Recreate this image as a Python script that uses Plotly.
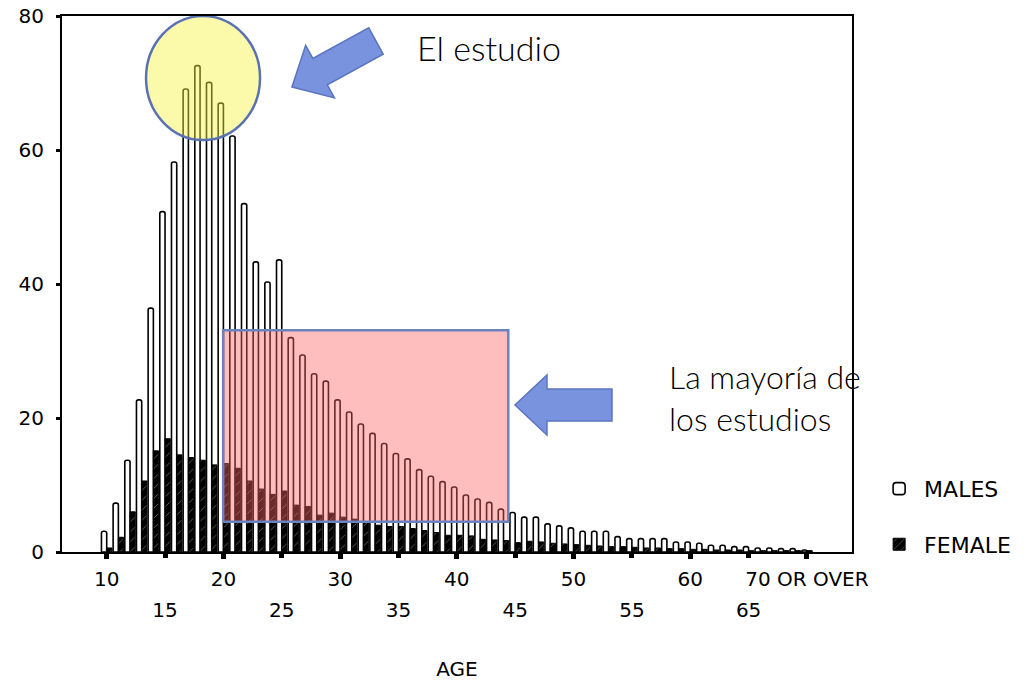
import plotly.graph_objects as go

# ---------------- data ----------------
ages = list(range(10, 71))
males = [3.1, 7.3, 13.7, 22.7, 36.4, 50.8, 58.2, 69.1, 72.6, 70.1,
         67.0, 62.1, 52.0, 43.3, 40.3, 43.6, 32.0, 29.4, 26.6, 25.5,
         22.7, 20.9, 19.1, 17.7, 16.2, 14.7, 13.9, 12.3, 11.3, 10.5,
         9.7, 8.5, 7.9, 7.4, 6.4, 5.9, 5.2, 5.2, 4.2, 3.9,
         3.6, 3.1, 3.1, 3.1, 2.3, 2.0, 2.0, 2.0, 2.0, 1.5,
         1.5, 1.3, 1.0, 1.0, 0.8, 0.8, 0.6, 0.6, 0.5, 0.5,
         0.3]
females = [0.6, 2.2, 6.0, 10.6, 15.1, 16.9, 14.5, 14.1, 13.7, 13.0,
           13.2, 12.5, 10.6, 9.4, 8.6, 9.1, 7.0, 6.8, 5.5, 5.8,
           5.2, 4.9, 4.5, 4.0, 3.8, 3.8, 3.5, 3.2, 2.9, 2.5,
           2.5, 2.4, 1.9, 1.8, 1.7, 1.4, 1.6, 1.5, 1.3, 1.2,
           1.1, 1.0, 0.9, 0.8, 0.8, 0.7, 0.6, 0.6, 0.5, 0.5,
           0.4, 0.4, 0.3, 0.3, 0.3, 0.2, 0.2, 0.2, 0.2, 0.2,
           0.2]
ticks_row1 = [10, 20, 30, 40, 50, 60, 70]
labels_row1 = ["10", "20", "30", "40", "50", "60", "70 OR OVER"]
ticks_row2 = [15, 25, 35, 45, 55, 65]
labels_row2 = ["15", "25", "35", "45", "55", "65"]
y_ticks = [0, 20, 40, 60, 80]

# ---------------- layout geometry (pixels) ----------------
W, H = 1024, 681
L, R, T, B = 62, 172, 16, 129
PW, PH = W - L - R, H - T - B
XR = [6.17, 73.86]
YR = [0, 80]


def px2paper(px, py):
    return (px - L) / PW, (H - B - py) / PH


def arrow_path(tip, tail, shaft_half, head_half, head_len):
    tx, ty = tip
    ax, ay = tail
    dx, dy = ax - tx, ay - ty
    ln = (dx * dx + dy * dy) ** 0.5
    ux, uy = dx / ln, dy / ln
    nx, ny = -uy, ux
    bx, by = tx + ux * head_len, ty + uy * head_len
    pts = [
        (tx, ty),
        (bx + nx * head_half, by + ny * head_half),
        (bx + nx * shaft_half, by + ny * shaft_half),
        (ax + nx * shaft_half, ay + ny * shaft_half),
        (ax - nx * shaft_half, ay - ny * shaft_half),
        (bx - nx * shaft_half, by - ny * shaft_half),
        (bx - nx * head_half, by - ny * head_half),
    ]
    s = ""
    for i, (px, py) in enumerate(pts):
        x, y = px2paper(px, py)
        s += ("M" if i == 0 else "L") + f"{x:.4f},{y:.4f} "
    return s + "Z"


fig = go.Figure()
fig.add_bar(
    x=ages, y=males, name="MALES", legendgroup="m",
    marker=dict(color="white", line=dict(color="black", width=1.6), cornerradius=2),
)
fig.add_bar(
    x=ages, y=females, name="FEMALE", legendgroup="f",
    marker=dict(
        color="black", line=dict(color="black", width=1),
        pattern=dict(shape="/", fgcolor="#d8d8d8", bgcolor="black", size=7, solidity=0.12),
    ),
)
# helper (empty) trace so the second x axis (staggered labels) is drawn
fig.add_scatter(x=ages, y=[None] * len(ages), xaxis="x2", showlegend=False,
                hoverinfo="skip", mode="markers")

fig.update_layout(
    width=W, height=H,
    margin=dict(l=L, r=R, t=T, b=B, autoexpand=False),
    paper_bgcolor="white", plot_bgcolor="white",
    font=dict(family="DejaVu Sans", size=20, color="black"),
    barmode="group", bargap=0.1, bargroupgap=0.0,
    xaxis=dict(
        range=XR, tickmode="array", tickvals=ticks_row1, ticktext=labels_row1,
        ticks="outside", ticklen=5, tickwidth=5, tickcolor="black",
        showline=True, linecolor="black", linewidth=2, mirror=True,
        showgrid=False, zeroline=False, ticklabelstandoff=3, automargin=False,
        title=dict(text="AGE", standoff=77, font=dict(size=20)),
    ),
    xaxis2=dict(
        range=XR, overlaying="x", anchor="y", side="bottom",
        tickmode="array", tickvals=ticks_row2, ticktext=labels_row2,
        ticks="outside", ticklen=5, tickwidth=5, tickcolor="black",
        showline=False, showgrid=False, zeroline=False, ticklabelstandoff=35,
        automargin=False,
    ),
    yaxis=dict(
        range=YR, tickmode="array", tickvals=y_ticks,
        ticks="outside", ticklen=4, tickwidth=3, tickcolor="black",
        showline=True, linecolor="black", linewidth=2, mirror=True,
        showgrid=False, zeroline=False, ticklabelstandoff=8, automargin=False,
    ),
    legend=dict(
        x=1.028, xanchor="left", y=0.157, yanchor="top",
        font=dict(size=22), traceorder="grouped", tracegroupgap=24,
        itemwidth=40, bgcolor="rgba(0,0,0,0)",
    ),
    showlegend=True,
)

# highlight shapes
fig.add_shape(type="rect", xref="x", yref="y", x0=19.98, x1=44.41, y0=4.52, y1=33.1,
              fillcolor="rgba(255,101,101,0.42)", line=dict(color="#6a83c0", width=2.5),
              layer="above")
fig.add_shape(type="circle", xref="x", yref="y", x0=13.37, x1=23.14, y0=61.5, y1=80,
              fillcolor="rgba(244,244,67,0.45)", line=dict(color="#5a72b4", width=2.5),
              layer="above")
# arrows
fig.add_shape(type="path", xref="paper", yref="paper",
              path=arrow_path((292, 87), (376, 41), 15, 30, 32),
              fillcolor="#7a93de", line=dict(color="#5a74c0", width=1.5), layer="above")
fig.add_shape(type="path", xref="paper", yref="paper",
              path=arrow_path((515, 405), (612, 405), 16, 30, 32),
              fillcolor="#7a93de", line=dict(color="#5a74c0", width=1.5), layer="above")

# callout texts
callouts = [("El estudio", 415, 47, 34),
            ("La mayoría de<br>los estudios", 667, 397, 32)]
for txt, cx, cy, fs in callouts:
    ax_, ay_ = px2paper(cx, cy)
    fig.add_annotation(text=txt, xref="paper", yref="paper", x=ax_, y=ay_,
                       xanchor="left", yanchor="middle", align="left", showarrow=False,
                       font=dict(family="Lato", size=fs, color="black", weight=300))

fig.write_html("out.html", config={"displayModeBar": False},
               post_script="document.body.style.margin='0px';")
